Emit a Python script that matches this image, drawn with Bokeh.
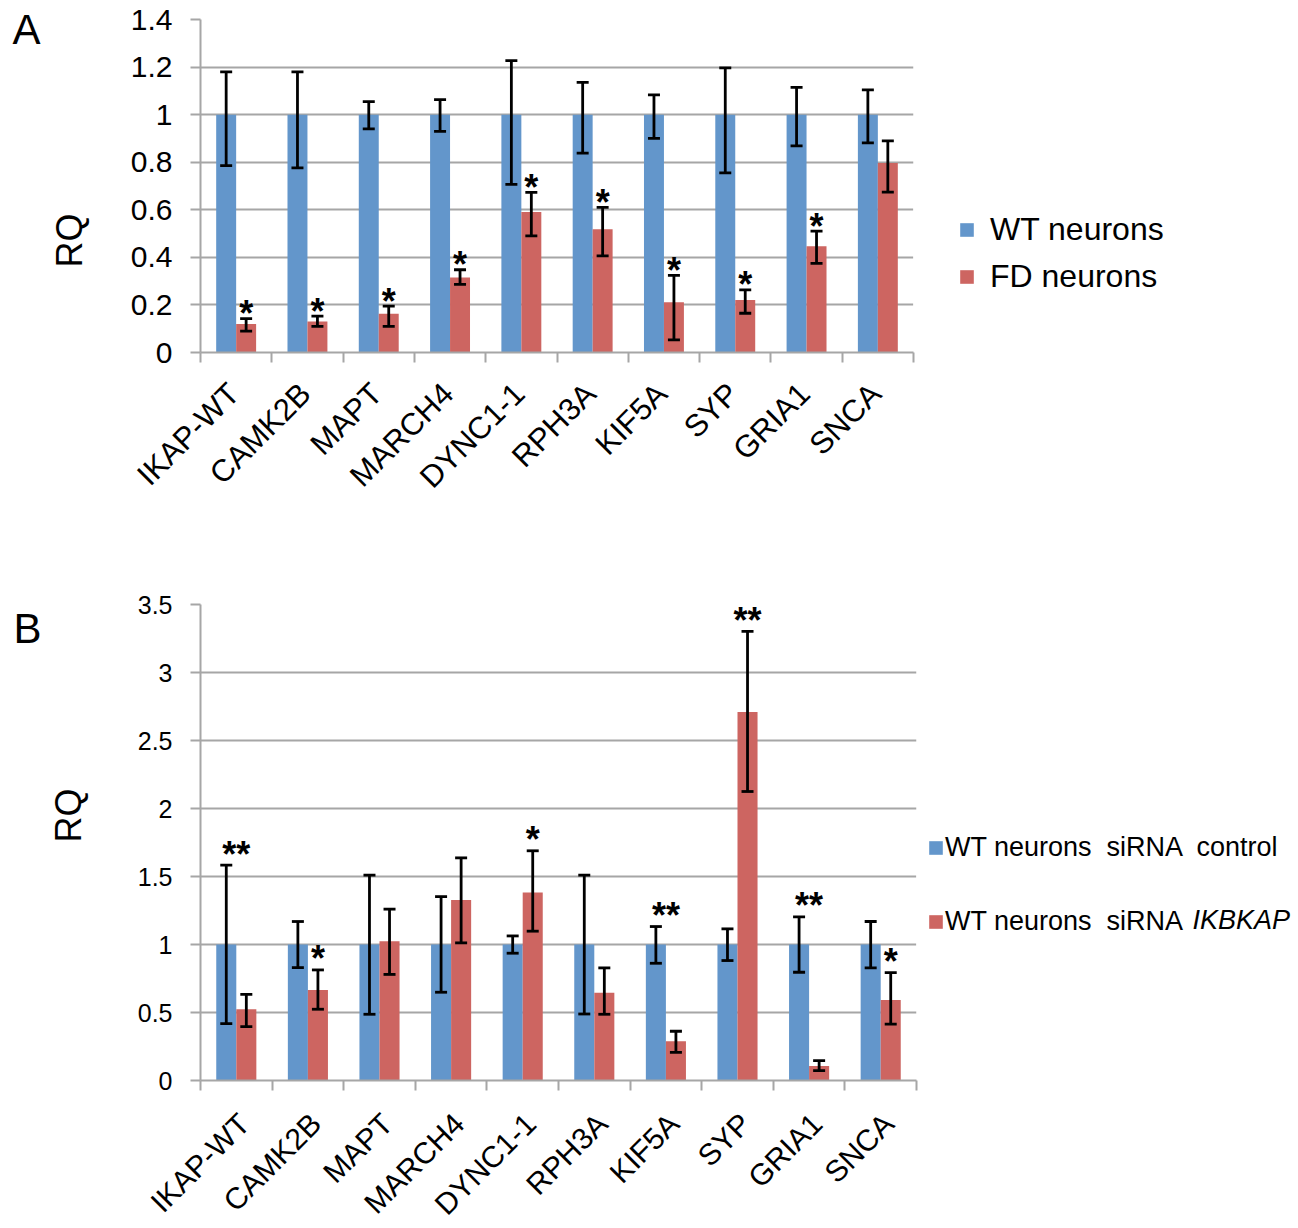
import math
import numpy as np
from bokeh.plotting import figure
from bokeh.layouts import column
from bokeh.models import (ColumnDataSource, Range1d, LinearAxis, FixedTicker, NumeralTickFormatter,
                          CustomJSTickFormatter, Grid, Whisker, TeeHead, Legend, LegendItem, Label)
from bokeh.core.properties import value
from bokeh.core.enums import CoordinateUnits
from bokeh.embed import file_html
from bokeh.resources import INLINE

genes = ["IKAP-WT", "CAMK2B", "MAPT", "MARCH4", "DYNC1-1", "RPH3A", "KIF5A", "SYP", "GRIA1", "SNCA"]

# ---- Panel A: WT vs FD neurons ----
a_wt = [1.0, 1.0, 1.0, 1.0, 1.0, 1.0, 1.0, 1.0, 1.0, 1.0]
a_wt_up = [1.18, 1.18, 1.055, 1.063, 1.227, 1.136, 1.083, 1.197, 1.115, 1.104]
a_wt_lo = [0.786, 0.776, 0.94, 0.93, 0.707, 0.838, 0.90, 0.755, 0.869, 0.881]
a_fd = [0.12, 0.13, 0.163, 0.315, 0.591, 0.518, 0.211, 0.221, 0.447, 0.797]
a_fd_up = [0.142, 0.153, 0.195, 0.348, 0.673, 0.61, 0.324, 0.263, 0.51, 0.89]
a_fd_lo = [0.09, 0.11, 0.11, 0.286, 0.49, 0.406, 0.053, 0.165, 0.375, 0.674]
a_stars = ["*", "*", "*", "*", "*", "*", "*", "*", "*", ""]
a_yticks = [0, 0.2, 0.4, 0.6, 0.8, 1.0, 1.2, 1.4]

# ---- Panel B: siRNA control vs siRNA IKBKAP ----
b_ctrl = [1.0, 1.0, 1.0, 1.0, 1.0, 1.0, 1.0, 1.0, 1.0, 1.0]
b_ctrl_up = [1.584, 1.169, 1.51, 1.352, 1.063, 1.51, 1.132, 1.115, 1.203, 1.169]
b_ctrl_lo = [0.418, 0.83, 0.487, 0.649, 0.936, 0.489, 0.862, 0.882, 0.796, 0.828]
b_si = [0.524, 0.666, 1.024, 1.328, 1.382, 0.646, 0.288, 2.709, 0.107, 0.592]
b_si_up = [0.634, 0.813, 1.26, 1.637, 1.689, 0.828, 0.362, 3.303, 0.146, 0.793]
b_si_lo = [0.396, 0.524, 0.78, 1.012, 1.098, 0.487, 0.207, 2.125, 0.072, 0.414]
b_stars = ["**", "*", "", "", "*", "", "**", "**", "**", "*"]
b_star_on = ["group", "red", "", "", "red", "", "group", "red", "group", "red"]
b_yticks = [0, 0.5, 1.0, 1.5, 2.0, 2.5, 3.0, 3.5]

FONT = "Liberation Sans"
BLUE = "#6396CB"
RED = "#CD6561"
GRIDC = "#A6A6A6"
BAR_W = 0.28
OFF = 0.14
UNITS = "canvas" if "canvas" in CoordinateUnits else "screen"


def make_panel(bl, bt, bb, fw, fh, ymax, yticks, tick_fs,
               s1, s1u, s1l, s2, s2u, s2l,
               leg_labels, leg_fs, leg_pad, leg_y, leg_standoff, leg_spacing, leg_lw,
               star_x, star_y, star_t, star_dy,
               cat_fs, cat_standoff, cat_shift):
    n = len(genes)
    centers = np.arange(n) + 0.5
    src = ColumnDataSource(dict(
        x1=centers - OFF, x2=centers + OFF,
        s1=s1, s1u=s1u, s1l=s1l, s2=s2, s2u=s2u, s2l=s2l))
    p = figure(frame_width=fw, frame_height=fh, x_range=Range1d(0, n), y_range=Range1d(0, ymax),
               output_backend="svg", toolbar_location=None,
               x_axis_type=None, y_axis_type=None,
               min_border_left=bl, min_border_top=bt,
               min_border_right=0, min_border_bottom=bb)
    p.outline_line_color = None
    p.background_fill_color = "white"
    p.border_fill_color = "white"

    grid = Grid(dimension=1, ticker=FixedTicker(ticks=yticks),
                grid_line_color=GRIDC, grid_line_width=2)
    p.add_layout(grid)

    r1 = p.vbar(x="x1", top="s1", bottom=0, width=BAR_W, source=src,
                fill_color=BLUE, line_color=None)
    r2 = p.vbar(x="x2", top="s2", bottom=0, width=BAR_W, source=src,
                fill_color=RED, line_color=None)

    for base, up, lo in (("x1", "s1u", "s1l"), ("x2", "s2u", "s2l")):
        w = Whisker(source=src, base=base, upper=up, lower=lo,
                    line_color="black", line_width=2.8,
                    upper_head=TeeHead(size=12, line_width=2.8, line_color="black"),
                    lower_head=TeeHead(size=12, line_width=2.8, line_color="black"))
        w.level = "annotation"
        p.add_layout(w)

    yax = LinearAxis(ticker=FixedTicker(ticks=yticks),
                     formatter=NumeralTickFormatter(format="0.[0]"),
                     axis_line_color=GRIDC, axis_line_width=2,
                     major_tick_line_color=GRIDC, major_tick_line_width=2,
                     major_tick_out=10, major_tick_in=0,
                     minor_tick_line_color=None,
                     major_label_text_font=FONT, major_label_text_font_size=tick_fs,
                     major_label_text_color="black", major_label_standoff=18)
    p.add_layout(yax, "left")

    # category names on (invisible) major ticks, category boundaries as minor ticks
    xax = LinearAxis(ticker=FixedTicker(ticks=list(centers + cat_shift),
                                        minor_ticks=list(range(n + 1))),
                     formatter=CustomJSTickFormatter(args=dict(names=genes),
                                                     code="return names[Math.floor(tick)] || ''"),
                     axis_line_color=GRIDC, axis_line_width=2,
                     major_tick_line_color=None, major_tick_out=0, major_tick_in=0,
                     minor_tick_line_color=GRIDC, minor_tick_line_width=2,
                     minor_tick_out=10, minor_tick_in=0,
                     major_label_orientation=math.pi / 4,
                     major_label_text_font=FONT, major_label_text_font_size=cat_fs,
                     major_label_text_color="black", major_label_standoff=cat_standoff)
    p.add_layout(xax, "below")

    st_src = ColumnDataSource(dict(x=star_x, y=star_y, t=star_t))
    p.text(x="x", y="y", text="t", source=st_src, text_font=value(FONT),
           text_font_size=value("36px"), text_font_style="bold",
           text_align="center", text_baseline="middle", y_offset=star_dy,
           text_color="black")

    legend = Legend(items=[LegendItem(label=leg_labels[0], renderers=[r1]),
                           LegendItem(label=leg_labels[1], renderers=[r2])],
                    location=(0, leg_y), label_text_font=FONT, label_text_font_size=leg_fs,
                    label_text_color="black",
                    glyph_width=17, glyph_height=17, label_standoff=leg_standoff,
                    label_width=leg_lw,
                    spacing=leg_spacing, padding=leg_pad, margin=0,
                    border_line_color="white", border_line_width=1,
                    background_fill_alpha=0)
    p.add_layout(legend, "right")
    return p


def add_side_labels(p, letter, letter_xy, rq_xy):
    p.add_layout(Label(x=rq_xy[0], y=rq_xy[1], x_units=UNITS, y_units=UNITS,
                       text="RQ", angle=math.pi / 2, text_font=FONT, text_font_size="36px",
                       text_color="black", text_align="center", text_baseline="middle"), "left")
    p.add_layout(Label(x=letter_xy[0], y=letter_xy[1], x_units=UNITS, y_units=UNITS,
                       text=letter, text_font=FONT, text_font_size="42px",
                       text_color="black", text_align="left", text_baseline="middle"), "left")


centers = np.arange(len(genes)) + 0.5

# star positions for A: above FD error bar
a_sx = list(centers + OFF)
a_sy = list(a_fd_up)

# star positions for B
b_sx, b_sy = [], []
for i, on in enumerate(b_star_on):
    if on == "group":
        b_sx.append(centers[i])
        b_sy.append(max(b_ctrl_up[i], b_si_up[i]))
    else:
        b_sx.append(centers[i] + OFF)
        b_sy.append(b_si_up[i])

pA = make_panel(200, 19, 200, 713, 333, 1.4, a_yticks, "30px",
                a_wt, a_wt_up, a_wt_lo, a_fd, a_fd_up, a_fd_lo,
                ["WT neurons", "FD neurons"], "32px", 44, 12, 15, 10, 180,
                a_sx, a_sy, a_stars, -5,
                "31px", 26, -0.03)
add_side_labels(pA, "A", (12, 29), (69, 240))

pB = make_panel(197, 52, 0, 716, 476, 3.5, b_yticks, "25px",
                b_ctrl, b_ctrl_up, b_ctrl_lo, b_si, b_si_up, b_si_lo,
                ["WT neurons  siRNA  control", "WT neurons  siRNA"], "27px", 10, 132, 1, 43, 338,
                b_sx, b_sy, b_stars, -11,
                "30px", 28, 0.11)
add_side_labels(pB, "B", (13, 76), (68, 263))
pB.add_layout(Label(x=1192, y=367, x_units=UNITS, y_units=UNITS, text="IKBKAP",
                    text_font=FONT, text_font_size="27px", text_font_style="italic",
                    text_color="black", text_align="left", text_baseline="middle"), "above")

layout = column(pA, pB, spacing=0)
open("out.html", "w").write(file_html(layout, INLINE))
